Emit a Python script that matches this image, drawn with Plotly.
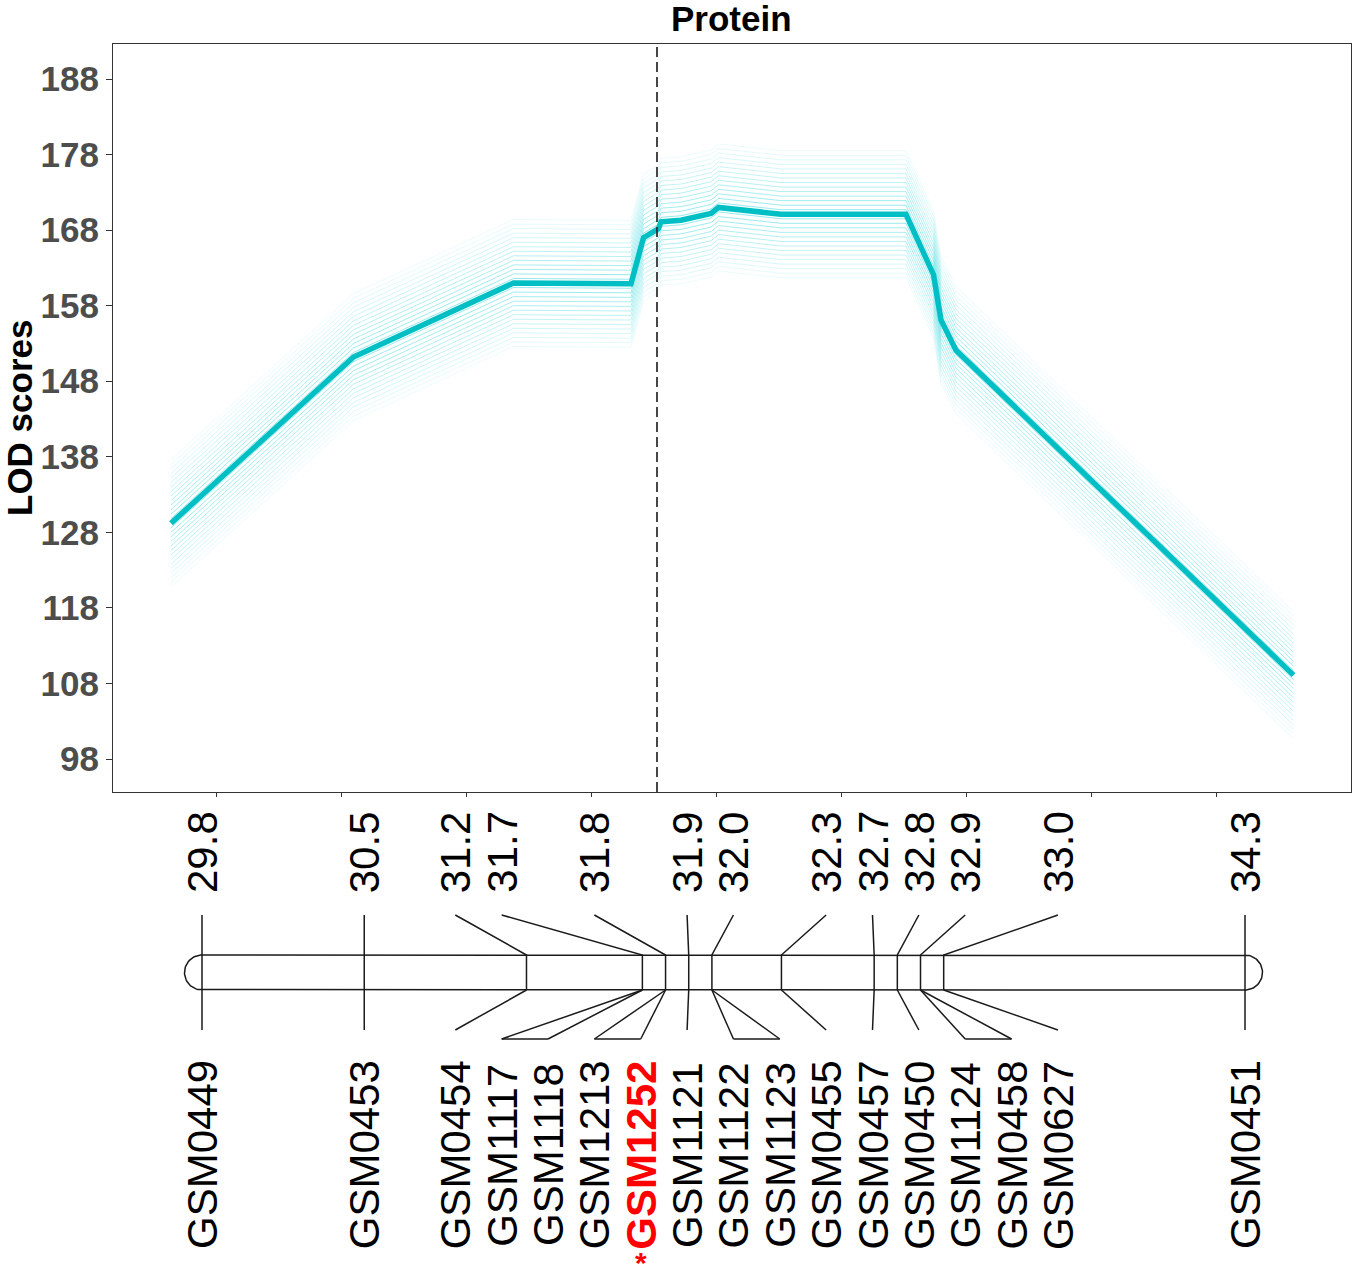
import plotly.graph_objects as go
import numpy as np

# LOD profile (position in cM, LOD score)
lod_pos = [29.82, 30.55, 31.19, 31.66, 31.71, 31.77, 31.78, 31.86, 31.98, 32.01,
           32.26, 32.76, 32.87, 32.90, 32.96, 34.31]
lod_val = [129.2, 151.2, 161.0, 160.9, 167.0, 168.2, 169.1, 169.3, 170.2, 171.0,
           170.1, 170.1, 162.1, 156.1, 152.1, 109.1]
# vertical shifts of the faint resampled profiles around the main one
resample_shift = [-8.4, -7.8, -7.2, -6.6, -6.0, -5.4, -4.8, -4.2, -3.6, -3.0,
                  -2.4, -1.8, -1.2, -0.6, 0.6, 1.2, 1.8, 2.4, 3.0, 3.6,
                  4.2, 4.8, 5.4, 6.0, 6.6, 7.2, 7.8, 8.4]
peak_pos = 31.764
y_ticks = [98, 108, 118, 128, 138, 148, 158, 168, 178, 188]
x_ticks = [30.0, 30.5, 31.0, 31.5, 32.0, 32.5, 33.0, 33.5, 34.0]

# linkage map
marker_names = ["GSM0449", "GSM0453", "GSM0454", "GSM1117", "GSM1118", "GSM1213",
                "GSM1252", "GSM1121", "GSM1122", "GSM1123", "GSM0455", "GSM0457",
                "GSM0450", "GSM1124", "GSM0458", "GSM0627", "GSM0451"]
marker_cm = [29.8, 30.5, 31.2, 31.7, 31.7, 31.8, 31.8, 31.9, 32.0, 32.0, 32.3, 32.7,
             32.8, 32.9, 32.9, 33.0, 34.3]
peak_marker = "GSM1252"

W, H = 1353, 1282
FONT = "Liberation Sans"

fig = go.Figure()

# faint profiles
for s in resample_shift:
    a = 0.05 + 0.40 * (1 - abs(s) / 9.0)
    fig.add_trace(go.Scatter(
        x=lod_pos, y=[v + s for v in lod_val], mode="lines",
        line=dict(color=f"rgba(0,205,212,{a:.3f})", width=1),
        hoverinfo="skip", showlegend=False))

fig.add_trace(go.Scatter(
    x=lod_pos, y=lod_val, mode="lines",
    line=dict(color="#00BFC4", width=5.5), showlegend=False))

fig.add_shape(type="line", xref="x", yref="paper", x0=peak_pos, x1=peak_pos,
              y0=1 - 792 / H, y1=1 - 44 / H,
              line=dict(color="#333333", width=1.8, dash="10px,5px"))

# ---- linkage map, drawn on its own full-page axes (x in cM, y in pixels) ----
px_per_cm = (1245 - 202) / (marker_cm[-1] - marker_cm[0])
x2_lo = marker_cm[0] - 202 / px_per_cm
x2_hi = x2_lo + W / px_per_cm

gap = 0.2  # label spacing in cM
clusters = []
for c in marker_cm:
    clusters.append([c])
    while len(clusters) > 1:
        a, b = clusters[-2], clusters[-1]
        a_end = np.mean(a) + (len(a) - 1) / 2 * gap
        b_start = np.mean(b) - (len(b) - 1) / 2 * gap
        if b_start - a_end < gap:
            clusters[-2:] = [a + b]
        else:
            break
slots = []
for c in clusters:
    m = np.mean(c)
    slots += [m + (k - (len(c) - 1) / 2) * gap for k in range(len(c))]

y_lab_top, y_bar_top, y_bar_bot, y_low, y_grp = 915, 955, 990, 1030, 1039

xs, ys = [], []
uniq = sorted(set(marker_cm))
top_slots = []
for u in uniq:
    idx = [i for i, c in enumerate(marker_cm) if c == u]
    top_slots.append(slots[idx[0]])
    xs += [slots[idx[0]], u, u, None]
    ys += [y_lab_top, y_bar_top, y_bar_bot, None]
    yend = y_grp if len(idx) > 1 else y_low
    for i in idx:
        xs += [u, slots[i], None]
        ys += [y_bar_bot, yend, None]
    if len(idx) > 1:
        xs += [slots[idx[0]], slots[idx[-1]], None]
        ys += [y_grp, y_grp, None]

# chromosome outline with round caps
r_px = (y_bar_bot - y_bar_top) / 2
yc = (y_bar_top + y_bar_bot) / 2
t = np.linspace(-np.pi / 2, np.pi / 2, 40)
cx0, cx1 = marker_cm[0], marker_cm[-1]
bx = ([cx0, cx1] + list(cx1 + r_px * np.cos(t) / px_per_cm)
      + [cx1, cx0] + list(cx0 - r_px * np.cos(t[::-1]) / px_per_cm))
by = ([y_bar_top, y_bar_top] + list(yc + r_px * np.sin(t))
      + [y_bar_bot, y_bar_bot] + list(yc + r_px * np.sin(t[::-1])))
xs += bx + [None]
ys += by + [None]

fig.add_trace(go.Scatter(x=xs, y=ys, mode="lines", xaxis="x2", yaxis="y2",
                         line=dict(color="#1a1a1a", width=1.5),
                         hoverinfo="skip", showlegend=False))

ann = []
for u, s in zip(uniq, top_slots):
    ann.append(dict(x=s, y=852, xref="x2", yref="y2", text=f"{u:.1f}",
                    textangle=-90, showarrow=False,
                    font=dict(family=FONT, size=42, color="black")))
for name, s in zip(marker_names, slots):
    hot = name == peak_marker
    ann.append(dict(x=s, y=1155, xref="x2", yref="y2",
                    text=f"<b>{name}</b>" if hot else name,
                    textangle=-90, showarrow=False,
                    font=dict(family=FONT, size=42,
                              color="#FF0000" if hot else "black")))
    if hot:
        ann.append(dict(x=s, y=1262, xref="x2", yref="y2", text="<b>*</b>",
                        showarrow=False,
                        font=dict(family=FONT, size=30, color="#FF0000")))

# page-pixel positions for title and y label, converted to x2 units
ann.append(dict(x=x2_lo + 731 / px_per_cm, y=18, xref="x2", yref="y2",
                text="<b>Protein</b>", showarrow=False,
                font=dict(family=FONT, size=35, color="black")))
ann.append(dict(x=x2_lo + 19 / px_per_cm, y=418, xref="x2", yref="y2",
                text="<b>LOD scores</b>", textangle=-90, showarrow=False,
                font=dict(family=FONT, size=35, color="black")))

y_lo = 98 - (792 - 759) / ((759 - 79) / 90)
y_hi = 188 + (79 - 44) / ((759 - 79) / 90)
x_lo = 32.0 - (716 - 113) / 250
x_hi = 32.0 + (1351 - 716) / 250

fig.update_layout(
    width=W, height=H,
    margin=dict(l=0, r=0, t=0, b=0),
    paper_bgcolor="white", plot_bgcolor="rgba(0,0,0,0)",
    showlegend=False, hovermode=False,
    font=dict(family=FONT),
    xaxis=dict(domain=[113 / W, 1351 / W], range=[x_lo, x_hi],
               tickvals=x_ticks, showticklabels=False, ticks="outside",
               ticklen=4, tickcolor="#333333", showgrid=False, zeroline=False,
               showline=True, linecolor="#333333", linewidth=1, mirror=True),
    yaxis=dict(domain=[1 - 792 / H, 1 - 44 / H], range=[y_lo, y_hi],
               tickvals=y_ticks, ticks="outside", ticklen=6,
               tickcolor="#333333", showgrid=False, zeroline=False,
               showline=True, linecolor="#333333", linewidth=1, mirror=True,
               tickfont=dict(family=FONT, size=35, color="#4D4D4D",
                             weight="bold")),
    xaxis2=dict(domain=[0, 1], range=[x2_lo, x2_hi], anchor="y2",
                visible=False, fixedrange=True),
    yaxis2=dict(domain=[0, 1], range=[H, 0], anchor="x2",
                visible=False, fixedrange=True),
    annotations=ann,
)

fig.write_html("out.html", config={"displayModeBar": False},
               post_script="document.body.style.margin='0px';")
